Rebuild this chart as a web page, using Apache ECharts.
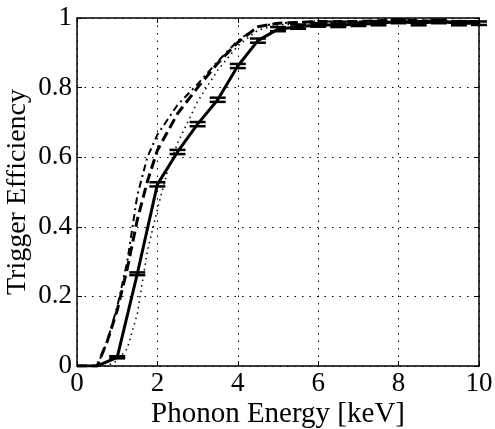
<!DOCTYPE html>
<html><head><meta charset="utf-8">
<script src="https://cdn.jsdelivr.net/npm/echarts@6/dist/echarts.min.js"></script>
<style>html,body{margin:0;padding:0;background:#fff}#c{width:495px;height:429px}</style>
</head><body><div id="c"></div>
<script>
// Solid series with error bars (x in keV, efficiency, error)
const solidX   = [0, 0.5, 1.0, 1.5, 2.0, 2.5, 3.0, 3.5, 4.0, 4.5, 5.0, 5.5, 6.0, 6.5, 7.0, 7.5, 8.0, 8.5, 9.0, 9.5, 10.0];
const solidY   = [0, 0, 0.025, 0.265, 0.522, 0.615, 0.695, 0.765, 0.862, 0.935, 0.968, 0.975, 0.98, 0.98, 0.982, 0.985, 0.99, 0.985, 0.99, 0.985, 0.985];
const solidErr = [0, 0, 0.003, 0.004, 0.006, 0.006, 0.006, 0.006, 0.006, 0.006, 0.006, 0.006, 0.005, 0.006, 0.005, 0.006, 0.005, 0.006, 0.005, 0.006, 0.005];
// Dashed series
const dashedX = [0, 0.5, 0.75, 1.0, 1.25, 1.5, 1.75, 2.0, 2.5, 3.0, 3.5, 4.0, 4.5, 5.0, 6.0, 7.0, 8.0, 9.0, 10.0];
const dashedY = [0, 0, 0.07, 0.16, 0.28, 0.42, 0.53, 0.62, 0.725, 0.80, 0.87, 0.93, 0.975, 0.985, 0.99, 0.99, 0.995, 0.99, 0.99];
// Dash-dot series
const dashDotX = [0, 0.5, 0.75, 1.0, 1.25, 1.5, 1.75, 2.0, 2.5, 3.0, 3.5, 4.0, 4.5, 5.0, 6.0, 7.0, 8.0, 9.0, 10.0];
const dashDotY = [0, 0, 0.07, 0.17, 0.30, 0.49, 0.60, 0.665, 0.75, 0.81, 0.875, 0.935, 0.975, 0.985, 0.99, 0.99, 0.99, 0.99, 0.99];
// Dotted series
const dottedX = [0, 0.75, 1.0, 1.25, 1.5, 1.75, 2.0, 2.25, 2.5, 3.0, 3.5, 4.0, 4.5, 5.0, 6.0, 7.0, 8.0, 9.0, 10.0];
const dottedY = [0, 0, 0.015, 0.05, 0.15, 0.33, 0.45, 0.56, 0.64, 0.76, 0.85, 0.92, 0.965, 0.98, 0.985, 0.985, 0.99, 0.99, 0.99];

const xTicks = {min: 0, max: 10, interval: 2};
const yTicks = {min: 0, max: 1, interval: 0.2};

const zip = (xs, ys) => xs.map((x, i) => [x, ys[i]]);
const errData = solidX.map((x, i) => [x, solidY[i], solidY[i] - solidErr[i], solidY[i] + solidErr[i]]).filter((d, i) => i >= 2);

const FONT = '"Liberation Serif", "Times New Roman", serif';
const FS = 27;
const FT = 29;
const chart = echarts.init(document.getElementById('c'), null, {renderer: 'canvas'});
const gridLine = {show: true, lineStyle: {color: '#000', width: 1, type: [1.5, 6]}};
const baseAxis = {
  axisLine: {show: true, onZero: false, lineStyle: {color: '#000', width: 1.5}},
  axisTick: {show: true, inside: true, length: 5, lineStyle: {color: '#000', width: 1}},
};
chart.setOption({
  animation: false,
  grid: {left: 77, right: 16, top: 18, bottom: 63, show: false, containLabel: false, outerBoundsMode: 'none'},
  xAxis: [
    Object.assign({type: 'value', position: 'bottom', min: xTicks.min, max: xTicks.max, interval: xTicks.interval,
      name: 'Phonon Energy [keV]', nameLocation: 'middle', nameGap: 34, nameMoveOverlap: false,
      nameTextStyle: {fontFamily: FONT, fontSize: FT, color: '#000'},
      axisLabel: {fontFamily: FONT, fontSize: FS, color: '#000', margin: 4},
      splitLine: gridLine}, baseAxis),
    Object.assign({type: 'value', position: 'top', min: xTicks.min, max: xTicks.max, interval: xTicks.interval,
      axisLabel: {show: false}, splitLine: {show: false}}, baseAxis)
  ],
  yAxis: [
    Object.assign({type: 'value', position: 'left', min: yTicks.min, max: yTicks.max, interval: yTicks.interval,
      name: 'Trigger Efficiency', nameLocation: 'middle', nameGap: 45, nameRotate: 90, nameMoveOverlap: false,
      nameTextStyle: {fontFamily: FONT, fontSize: 28, color: '#000'},
      axisLabel: {fontFamily: FONT, fontSize: FS, color: '#000', margin: 5, padding: [6, 0, 0, 0],
        formatter: v => (v === 0 || v === 1) ? String(v) : v.toFixed(1)},
      splitLine: gridLine}, baseAxis),
    Object.assign({type: 'value', position: 'right', min: yTicks.min, max: yTicks.max, interval: yTicks.interval,
      axisLabel: {show: false}, splitLine: {show: false}}, baseAxis)
  ],
  series: [
    {type: 'line', data: zip(dottedX, dottedY), showSymbol: false, lineStyle: {color: '#000', width: 1.5, type: [1.5, 4]}, z: 2},
    {type: 'line', data: zip(dashDotX, dashDotY), showSymbol: false, lineStyle: {color: '#000', width: 2, type: [7, 4, 2, 4]}, z: 3},
    {type: 'line', data: zip(dashedX, dashedY), showSymbol: false, lineStyle: {color: '#000', width: 3, type: [10, 5]}, z: 4},
    {type: 'line', data: zip(solidX, solidY), showSymbol: false, lineStyle: {color: '#000', width: 3}, z: 5},
    {type: 'custom', z: 6, data: errData,
      renderItem: (params, api) => {
        const x = api.value(0);
        const lo = api.coord([x, api.value(2)]);
        const hi = api.coord([x, api.value(3)]);
        const hw = 8;
        const st = {stroke: '#000', lineWidth: 2.5};
        return {type: 'group', children: [
          {type: 'line', shape: {x1: lo[0], y1: lo[1], x2: hi[0], y2: hi[1]}, style: st},
          {type: 'line', shape: {x1: lo[0] - hw, y1: lo[1], x2: lo[0] + hw, y2: lo[1]}, style: st},
          {type: 'line', shape: {x1: hi[0] - hw, y1: hi[1], x2: hi[0] + hw, y2: hi[1]}, style: st}
        ]};
      }}
  ]
});
</script></body></html>
